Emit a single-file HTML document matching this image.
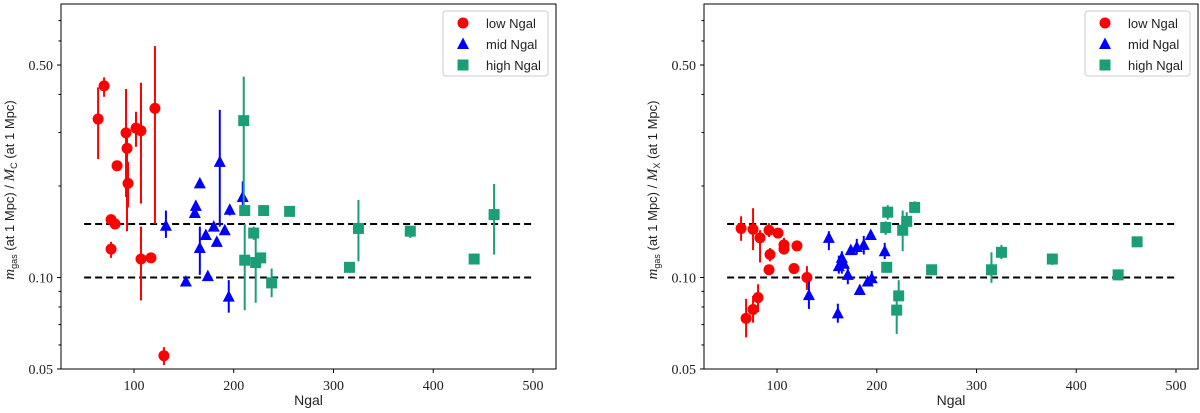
<!DOCTYPE html>
<html><head><meta charset="utf-8">
<style>
body{margin:0;background:#fff;}
svg{display:block;font-family:"Liberation Sans",sans-serif;}
.tk{font-family:"Liberation Serif",serif;font-size:14px;fill:#222;}
</style></head>
<body>
<svg id="fig" width="1200" height="413" viewBox="0 0 1200 413" xmlns="http://www.w3.org/2000/svg"></svg>
<script>
// ---- Left panel (M_C) data ----
const lowX_C = [64,70,83,77,81,77,92,93,94,102,107,107,117,121,130];
const lowY_C = [0.332,0.427,0.233,0.155,0.150,0.124,0.299,0.266,0.204,0.310,0.304,0.115,0.116,0.360,0.0553];
const lowLo_C = [0.245,0.393,0.226,0.150,0.146,0.116,0.184,0.142,0.170,0.269,0.175,0.084,0.112,0.150,0.0515];
const lowHi_C = [0.422,0.455,0.240,0.160,0.155,0.131,0.417,0.300,0.240,0.351,0.437,0.147,0.120,0.577,0.059];
const midX_C = [132,152,161,162,166,166,172,174,180,183,186,191,195,196,209];
const midY_C = [0.148,0.097,0.163,0.172,0.204,0.125,0.138,0.101,0.147,0.131,0.240,0.143,0.0865,0.167,0.184];
const midLo_C = [0.135,0.095,0.160,0.169,0.200,0.102,0.135,0.099,0.144,0.128,0.147,0.140,0.0766,0.160,0.165];
const midHi_C = [0.166,0.099,0.166,0.175,0.208,0.147,0.141,0.103,0.150,0.134,0.356,0.146,0.098,0.172,0.207];
const hiX_C = [210,211,230,256,220,211,222,227,238,316,325,377,441,461];
const hiY_C = [0.328,0.166,0.166,0.165,0.140,0.114,0.112,0.116,0.096,0.108,0.145,0.142,0.115,0.161];
const hiLo_C = [0.171,0.163,0.163,0.162,0.133,0.078,0.0826,0.113,0.0861,0.104,0.113,0.135,0.112,0.119];
const hiHi_C = [0.458,0.169,0.169,0.168,0.147,0.150,0.140,0.119,0.107,0.112,0.180,0.147,0.118,0.203];
// ---- Right panel (M_X) data ----
const lowX_X = [64,69,76,76,81,83,92,93,92,101,107,107,120,117,130];
const lowY_X = [0.145,0.0734,0.144,0.0785,0.0859,0.135,0.143,0.119,0.106,0.140,0.128,0.124,0.127,0.107,0.100];
const lowLo_X = [0.132,0.0635,0.123,0.071,0.077,0.112,0.136,0.113,0.103,0.137,0.123,0.120,0.124,0.104,0.091];
const lowHi_X = [0.159,0.085,0.169,0.087,0.095,0.143,0.151,0.125,0.109,0.143,0.135,0.130,0.130,0.110,0.109];
const midX_X = [132,152,161,162,165,167,171,174,180,183,187,191,195,194,208];
const midY_X = [0.0875,0.135,0.0762,0.109,0.116,0.111,0.102,0.123,0.126,0.091,0.128,0.097,0.0994,0.138,0.122];
const midLo_X = [0.0788,0.123,0.071,0.103,0.103,0.108,0.095,0.120,0.119,0.089,0.119,0.095,0.094,0.135,0.115];
const midHi_X = [0.097,0.142,0.082,0.118,0.122,0.114,0.109,0.126,0.134,0.093,0.137,0.099,0.105,0.141,0.130];
const hiX_X = [211,209,210,220,222,226,230,238,255,315,325,376,442,461];
const hiY_X = [0.164,0.146,0.108,0.0781,0.087,0.143,0.153,0.170,0.106,0.106,0.121,0.115,0.102,0.131];
const hiLo_X = [0.155,0.138,0.105,0.0652,0.085,0.122,0.143,0.164,0.103,0.096,0.115,0.110,0.098,0.128];
const hiHi_X = [0.173,0.153,0.111,0.086,0.098,0.166,0.164,0.178,0.109,0.121,0.128,0.120,0.106,0.134];
const refLines = [0.10,0.15];
const xTicks = [100,200,300,400,500];
const yTicksMajor = [0.05,0.10,0.50];
const yTicksMinor = [0.06,0.07,0.08,0.09,0.2,0.3,0.4,0.6,0.7];
const legendLabels = ["low Ngal","mid Ngal","high Ngal"];

const NS="http://www.w3.org/2000/svg";
const svg=document.getElementById('fig');
function mk(tag,attrs,parent){const e=document.createElementNS(NS,tag);for(const k in attrs)e.setAttribute(k,attrs[k]);(parent||svg).appendChild(e);return e;}
const RED="#ff0000",BLUE="#0000ff",GRN="#1b9e77";

function panel(name,left,right,x100,x500,ylabelSub,series){
  const top=4,bot=369;
  const g=mk('g',{});
  
  
  const X=v=>x100+(v-100)*(x500-x100)/400;
  const Y=v=>bot-(Math.log10(v/0.05))*304;
  // ref lines
  refLines.forEach(r=>{
    const l=mk('line',{x1:X(50),x2:X(500),y1:Y(r),y2:Y(r),stroke:'#000','stroke-width':2,'stroke-dasharray':'7,4'},g);
    
    
  });
  series.forEach(s=>{
    s.x.forEach((xv,i)=>{
      const eb=mk('line',{x1:X(xv),x2:X(xv),y1:Y(s.lo[i]),y2:Y(s.hi[i]),stroke:s.c,'stroke-width':2},g);
      
      
    });
    s.x.forEach((xv,i)=>{
      const cx=X(xv),cy=Y(s.y[i]);let m;
      if(s.m==='o')m=mk('circle',{cx:cx,cy:cy,r:5.5,fill:s.c},g);
      else if(s.m==='^')m=mk('polygon',{points:`${cx},${cy-6.5} ${cx-6},${cy+5} ${cx+6},${cy+5}`,fill:s.c},g);
      else m=mk('rect',{x:cx-5.5,y:cy-5.5,width:11,height:11,fill:s.c},g);
      
      
    });
  });
  // axes frame
  const fr=mk('rect',{x:left,y:top,width:right-left,height:bot-top,fill:'none',stroke:'#000','stroke-width':1},g);
  
  
  xTicks.forEach(t=>{
    mk('line',{x1:X(t),x2:X(t),y1:bot,y2:bot+4,stroke:'#000'},g);
    const tx=mk('text',{x:X(t),y:bot+21,'text-anchor':'middle',class:'tk'},g);
    tx.textContent=t;
    
    
  });
  yTicksMajor.forEach(t=>{
    mk('line',{x1:left-4,x2:left,y1:Y(t),y2:Y(t),stroke:'#000'},g);
    const tx=mk('text',{x:left-8,y:Y(t)+5,'text-anchor':'end',class:'tk'},g);
    tx.textContent=t.toFixed(2);
    
    
  });
  yTicksMinor.forEach(t=>{mk('line',{x1:left-2.5,x2:left,y1:Y(t),y2:Y(t),stroke:'#000'},g);});
  const xl=mk('text',{x:(left+right)/2,y:405,'text-anchor':'middle','font-size':14,fill:'#222'},g);
  xl.textContent='Ngal';
  
  
  const yl=mk('text',{transform:`translate(${left-47},190) rotate(-90)`,'text-anchor':'middle','font-size':13,fill:'#222'},g);
  yl.innerHTML=`<tspan font-family="Liberation Serif" font-style="italic" font-size="15">m</tspan><tspan font-size="9" dy="3">gas</tspan><tspan dy="-3"> (at 1 Mpc) / </tspan><tspan font-family="Liberation Serif" font-style="italic" font-size="15">M</tspan><tspan font-size="9" dy="3">${ylabelSub}</tspan><tspan dy="-3"> (at 1 Mpc)</tspan>`;
  
  
  // legend
  const lx=right-113,ly=11;
  const lg=mk('g',{},g);
  
  
  mk('rect',{x:lx,y:ly,width:105,height:65,rx:3,fill:'#fff',stroke:'#ccc'},lg);
  series.forEach((s,i)=>{
    const cy=ly+12+i*21,cx=lx+20;let m;
    if(s.m==='o')m=mk('circle',{cx:cx,cy:cy,r:5.5,fill:s.c},lg);
    else if(s.m==='^')m=mk('polygon',{points:`${cx},${cy-6.5} ${cx-6},${cy+5} ${cx+6},${cy+5}`,fill:s.c},lg);
    else m=mk('rect',{x:cx-5.5,y:cy-5.5,width:11,height:11,fill:s.c},lg);
    
    
    const t=mk('text',{x:lx+43,y:cy+5,'font-size':13,fill:'#222'},lg);
    t.textContent=legendLabels[i];
    
    
  });
}
panel('left-panel',61,556,134,533,'C',[
  {n:'low',m:'o',c:RED,x:lowX_C,y:lowY_C,lo:lowLo_C,hi:lowHi_C},
  {n:'mid',m:'^',c:BLUE,x:midX_C,y:midY_C,lo:midLo_C,hi:midHi_C},
  {n:'high',m:'s',c:GRN,x:hiX_C,y:hiY_C,lo:hiLo_C,hi:hiHi_C}]);
panel('right-panel',704,1198,777,1176,'X',[
  {n:'low',m:'o',c:RED,x:lowX_X,y:lowY_X,lo:lowLo_X,hi:lowHi_X},
  {n:'mid',m:'^',c:BLUE,x:midX_X,y:midY_X,lo:midLo_X,hi:midHi_X},
  {n:'high',m:'s',c:GRN,x:hiX_X,y:hiY_X,lo:hiLo_X,hi:hiHi_X}]);
</script>
</body></html>
